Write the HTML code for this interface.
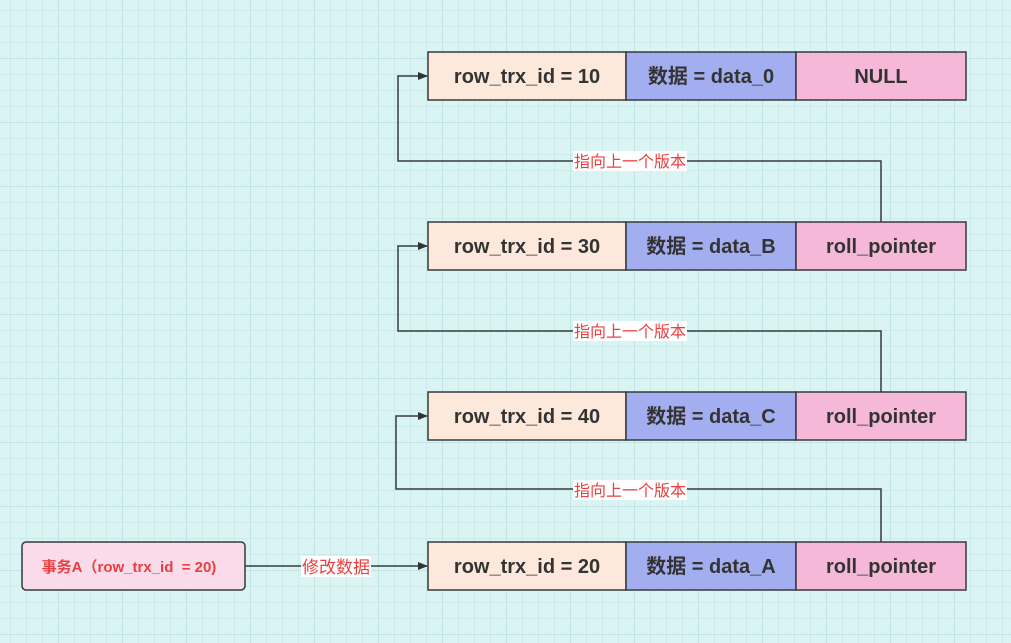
<!DOCTYPE html>
<html><head><meta charset="utf-8"><style>
body{margin:0;width:1011px;height:643px;overflow:hidden;background:#daf4f4;
background-image:linear-gradient(#c3e4e4 1px,transparent 1px),linear-gradient(90deg,#c3e4e4 1px,transparent 1px),linear-gradient(#cdeaea 1px,transparent 1px),linear-gradient(90deg,#cdeaea 1px,transparent 1px);
background-size:64px 64px,64px 64px,16px 16px,16px 16px;background-position:-6px -6px;}
svg{position:absolute;left:0;top:0}
text{font-family:"Liberation Sans","Noto Sans CJK SC",sans-serif}
</style></head><body>
<svg width="1011" height="643" viewBox="0 0 1011 643">
<defs><marker id="a" markerWidth="10" markerHeight="8" refX="9" refY="4" orient="auto" markerUnits="userSpaceOnUse"><path d="M0,0 L10,4 L0,8 Z" fill="#333"/></marker></defs>
<g stroke="#36393d" stroke-width="1.5">
<rect x="428" y="52" width="198" height="48" fill="#fce9db"/>
<rect x="626" y="52" width="170" height="48" fill="#a3aef0"/>
<rect x="796" y="52" width="170" height="48" fill="#f5b8d9"/>
<rect x="428" y="222" width="198" height="48" fill="#fce9db"/>
<rect x="626" y="222" width="170" height="48" fill="#a3aef0"/>
<rect x="796" y="222" width="170" height="48" fill="#f5b8d9"/>
<rect x="428" y="392" width="198" height="48" fill="#fce9db"/>
<rect x="626" y="392" width="170" height="48" fill="#a3aef0"/>
<rect x="796" y="392" width="170" height="48" fill="#f5b8d9"/>
<rect x="428" y="542" width="198" height="48" fill="#fce9db"/>
<rect x="626" y="542" width="170" height="48" fill="#a3aef0"/>
<rect x="796" y="542" width="170" height="48" fill="#f5b8d9"/>
<rect x="22" y="542" width="223" height="48" rx="4" fill="#fadbe9"/>
</g>
<g stroke="#36393d" stroke-width="1.5" fill="none" marker-end="url(#a)">
<path d="M881 222 V161 H398 V76 H427"/>
<path d="M881 392 V331 H398 V246 H427"/>
<path d="M881 542 V489 H396 V416 H427"/>
<path d="M245 566 H427"/>
</g>
<g fill="#fff">
<rect x="573" y="151" width="114" height="20"/>
<rect x="573" y="321" width="114" height="20"/>
<rect x="573" y="480" width="114" height="20"/>
<rect x="301" y="556" width="70" height="21"/>
</g>
<g fill="#e84040" font-size="16" text-anchor="middle">
<text x="630" y="167">指向上一个版本</text>
<text x="630" y="337">指向上一个版本</text>
<text x="630" y="496">指向上一个版本</text>
<text x="336" y="573" font-size="17">修改数据</text>
<text x="129" y="572" font-size="15" font-weight="bold" xml:space="preserve">事务A（row_trx_id  = 20)</text>
</g>
<g fill="#333" font-size="20" font-weight="bold" text-anchor="middle">
<text x="527" y="83">row_trx_id = 10</text>
<text x="711" y="83">数据 = data_0</text>
<text x="881" y="83">NULL</text>
<text x="527" y="253">row_trx_id = 30</text>
<text x="711" y="253">数据 = data_B</text>
<text x="881" y="253">roll_pointer</text>
<text x="527" y="423">row_trx_id = 40</text>
<text x="711" y="423">数据 = data_C</text>
<text x="881" y="423">roll_pointer</text>
<text x="527" y="573">row_trx_id = 20</text>
<text x="711" y="573">数据 = data_A</text>
<text x="881" y="573">roll_pointer</text>
</g>
</svg>
</body></html>
